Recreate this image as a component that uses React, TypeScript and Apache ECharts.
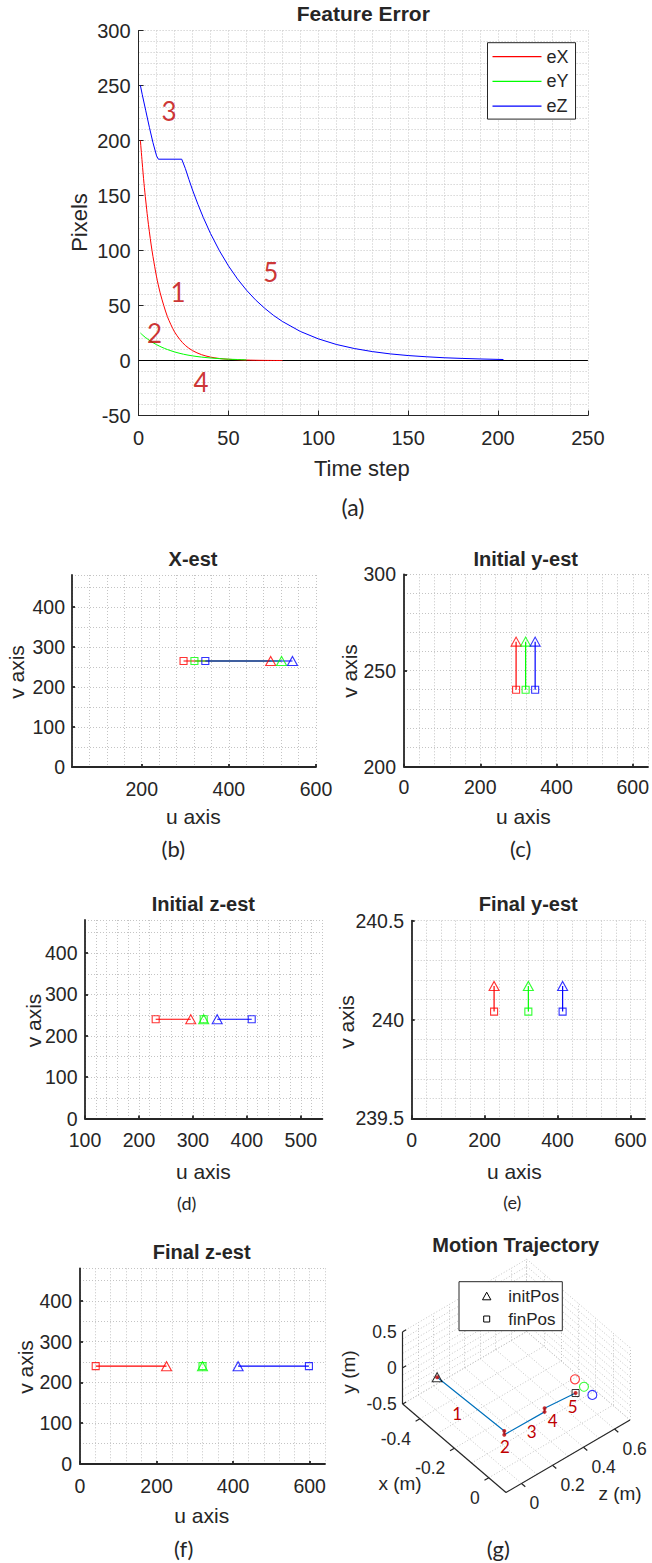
import React, { useEffect, useRef } from "react";
import * as echarts from "echarts";

// ---------------- DATA ----------------
// (a) Feature error
const eXTime = [1, 2, 3, 4, 5, 6, 7, 8, 10, 12, 14, 16, 18, 20, 23, 26, 30, 35, 40, 45, 50, 60, 70, 80];
const eXValue = [200, 180, 161, 145, 130, 117, 105, 94.5, 76, 61.5, 50, 40, 32.5, 26, 19, 13.7, 9, 5.3, 3.1, 1.8, 1.1, 0.4, 0.1, 0];
const eYTime = [1, 3, 5, 7, 10, 13, 16, 20, 25, 30, 35, 40, 45, 50, 55, 60];
const eYValue = [25, 22, 19.5, 17.2, 14.4, 12, 10, 7.8, 5.7, 4.2, 3.1, 2.3, 1.7, 1.2, 0.9, 0.6];
const eZTime = [1, 2, 4, 6, 8, 10, 11, 24, 26, 28, 30, 33, 36, 40, 45, 50, 55, 60, 65, 70, 75, 80, 90, 100, 110, 120, 130, 140, 150, 160, 170, 180, 190, 203];
const eZValue = [250, 242, 227, 212, 198, 186, 183, 183, 174.6, 164.6, 155, 142, 130, 115.5, 99.7, 86, 74.2, 64, 55.2, 47.7, 41.1, 35.5, 26.4, 19.7, 14.6, 10.9, 8.1, 6, 4.5, 3.4, 2.5, 1.9, 1.4, 0.9];
const zeroLineTime = [0, 250];
const zeroLineValue = [0, 0];
const phaseLabels = ["1", "2", "3", "4", "5"];
const phaseTime = [21.9, 8.9, 17, 34.8, 73.5];
const phaseValue = [62.5, 24.7, 227, -19.3, 80.7];
const aTimeTicks = [0, 50, 100, 150, 200, 250];
const aPixelTicks = [-50, 0, 50, 100, 150, 200, 250, 300];

// (b)-(f) image-plane features (red, green, blue)
const featureColors = ["#ff0000", "#00ff00", "#0000ff"];
const xEstSquareU = [296, 321, 346];
const xEstSquareV = [265, 265, 265];
const xEstTriU = [496, 521, 546];
const xEstTriV = [265, 265, 265];

const iyEstSquareU = [294, 319, 344];
const iyEstSquareV = [240, 240, 240];
const iyEstTriU = [294, 319, 344];
const iyEstTriV = [265, 265, 265];

const izEstSquareU = [231, 320, 409];
const izEstSquareV = [240, 240, 240];
const izEstTriU = [296, 320, 345];
const izEstTriV = [240, 240, 240];

const fyEstSquareU = [226, 320, 414];
const fyEstSquareV = [240.04, 240.04, 240.04];
const fyEstTriU = [226, 320, 414];
const fyEstTriV = [240.17, 240.17, 240.17];

const fzEstSquareU = [41, 320, 598];
const fzEstSquareV = [240, 240, 240];
const fzEstTriU = [226, 320, 413];
const fzEstTriV = [240, 240, 240];

const uTicks0 = [0, 200, 400, 600];
const uTicksB = [200, 400, 600];
const uTicksD = [100, 200, 300, 400, 500];
const vTicks0 = [0, 100, 200, 300, 400];
const vTicksC = [200, 250, 300];
const vTicksE = [239.5, 240, 240.5];

// (g) motion trajectory (3D, metres)
const trajX = [-0.39, 0, 0, 0, 0, 0];
const trajY = [-0.03, 0.02, -0.03, -0.04, 0.01, -0.03];
const trajZ = [0, 0, 0, 0.26, 0.26, 0.46];
const featX = [0, 0, 0];
const featY = [0.165, -0.011, -0.192];
const featZ = [0.456, 0.514, 0.568];
const xTicks3 = [-0.4, -0.2, 0];
const yTicks3 = [-0.5, 0, 0.5];
const zTicks3 = [0, 0.2, 0.4, 0.6];
const xGrid3 = [-0.5, -0.4, -0.3, -0.2, -0.1, 0, 0.1];
const yGrid3 = [-0.5, -0.4, -0.3, -0.2, -0.1, 0, 0.1, 0.2, 0.3, 0.4, 0.5];
const zGrid3 = [-0.1, 0, 0.1, 0.2, 0.3, 0.4, 0.5, 0.6, 0.7];

// ---------------- STYLE / LAYOUT ----------------
const FONT = "'Liberation Sans', Arial, Helvetica, sans-serif";
const CAL = "Lato, 'Open Sans', sans-serif";
const INK = "#262626";
const GRIDC = "#c4c4c4";
const DOT = [1, 2];
const ANNOT = "#c00000";

const X3 = [-0.5, 0.1];
const Y3 = [-0.5, 0.5];
const Z3 = [-0.1, 0.7];
const G3 = { left: 330, top: 1240, width: 322, height: 280 };
const ORIGIN3 = [402.7, 1404];
const VX3 = [103.3, 88.5];
const VY3 = [0, -72.3];
const VZ3 = [124, -72.5];

function projPage(x: number, y: number, z: number): number[] {
  const nx = (x - X3[0]) / (X3[1] - X3[0]);
  const ny = (y - Y3[0]) / (Y3[1] - Y3[0]);
  const nz = (z - Z3[0]) / (Z3[1] - Z3[0]);
  return [
    ORIGIN3[0] + nx * VX3[0] + ny * VY3[0] + nz * VZ3[0],
    ORIGIN3[1] + nx * VX3[1] + ny * VY3[1] + nz * VZ3[1],
  ];
}
function proj(x: number, y: number, z: number): number[] {
  const p = projPage(x, y, z);
  return [p[0] - G3.left, p[1] - G3.top];
}
function unit(v: number[], s: number): number[] {
  const l = Math.hypot(v[0], v[1]);
  return [(v[0] / l) * s, (v[1] / l) * s];
}

type Panel = {
  rect: number[];
  x: [number, number, number[], number];
  y: [number, number, number[], number];
  size: number;
  axisW: number;
  tick: number;
  xm: number;
  ym: number;
};

const panels: Panel[] = [
  { rect: [138.6, 30.5, 449.3, 385], x: [0, 250, aTimeTicks, 10], y: [-50, 300, aPixelTicks, 10], size: 20, axisW: 1, tick: 5, xm: 12, ym: 8 },
  { rect: [72, 575, 244, 192], x: [40, 600, uTicksB, 40], y: [0, 480, vTicks0, 50], size: 19.5, axisW: 1.8, tick: 3, xm: 11.5, ym: 7 },
  { rect: [404, 574.3, 244, 192.4], x: [0, 640, uTicks0, 40], y: [200, 300, vTicksC, 10], size: 19.5, axisW: 1.8, tick: 3, xm: 10.5, ym: 8 },
  { rect: [85, 920, 237.4, 198.5], x: [100, 540, uTicksD, 20], y: [0, 480, vTicks0, 50], size: 19.5, axisW: 1.8, tick: 3, xm: 11.5, ym: 7.5 },
  { rect: [411.7, 920.7, 233.3, 197.6], x: [0, 640, uTicks0, 40], y: [239.5, 240.5, vTicksE, 0.1], size: 19.5, axisW: 1.8, tick: 3, xm: 11.5, ym: 7.5 },
  { rect: [80, 1268.3, 245, 195.7], x: [0, 640, uTicks0, 40], y: [0, 480, vTicks0, 50], size: 19.5, axisW: 1.8, tick: 3, xm: 12, ym: 8 },
];

function mainAxis(gi: number, isX: boolean, p: Panel) {
  const [mn, mx, ticks] = isX ? p.x : p.y;
  return {
    type: "value",
    gridIndex: gi,
    min: mn,
    max: mx,
    position: isX ? "bottom" : "left",
    z: 3,
    axisLine: { show: true, onZero: false, lineStyle: { color: INK, width: p.axisW } },
    axisTick: { show: true, inside: true, length: p.tick, customValues: ticks, lineStyle: { color: INK, width: p.axisW } },
    axisLabel: {
      show: true,
      customValues: ticks,
      color: INK,
      fontSize: p.size,
      fontFamily: FONT,
      margin: isX ? p.xm : p.ym,
      hideOverlap: false,
    },
    splitLine: { show: false },
  };
}
function minorAxis(gi: number, isX: boolean, p: Panel) {
  const [mn, mx, , step] = isX ? p.x : p.y;
  return {
    type: "value",
    gridIndex: gi,
    min: mn,
    max: mx,
    interval: step,
    position: isX ? "bottom" : "left",
    z: 0,
    axisLine: { show: false },
    axisTick: { show: false },
    axisLabel: { show: false },
    splitLine: { show: true, lineStyle: { color: GRIDC, width: 1, type: DOT } },
  };
}

function zip(a: number[], b: number[]) {
  return a.map((v, i) => [v, b[i]]);
}

function uvSeries(pi: number, sqU: number[], sqV: number[], trU: number[], trV: number[]) {
  const out: any[] = [];
  featureColors.forEach((c, i) => {
    out.push({
      type: "line",
      xAxisIndex: pi * 2,
      yAxisIndex: pi * 2,
      data: [[sqU[i], sqV[i]], [trU[i], trV[i]]],
      symbol: "none",
      lineStyle: { color: c, width: 1.2 },
      silent: true,
      z: 2,
    });
  });
  featureColors.forEach((c, i) => {
    out.push({
      type: "scatter",
      xAxisIndex: pi * 2,
      yAxisIndex: pi * 2,
      data: [[sqU[i], sqV[i]]],
      symbol: "rect",
      symbolSize: 7,
      itemStyle: { color: "transparent", borderColor: c, borderWidth: 1.1 },
      silent: true,
      z: 4,
    });
    out.push({
      type: "scatter",
      xAxisIndex: pi * 2,
      yAxisIndex: pi * 2,
      data: [[trU[i], trV[i]]],
      symbol: "triangle",
      symbolSize: [10, 9],
      itemStyle: { color: "transparent", borderColor: c, borderWidth: 1.1 },
      silent: true,
      z: 4,
    });
  });
  return out;
}

function txt(x: number, y: number, text: string, size: number, o: any = {}) {
  return {
    type: "text",
    x,
    y,
    rotation: o.rot || 0,
    z: 100,
    silent: true,
    style: {
      text,
      fill: o.fill || INK,
      fontSize: size,
      fontFamily: o.family || FONT,
      fontWeight: o.bold ? "bold" : "normal",
      align: o.align || "center",
      verticalAlign: "middle",
    },
  };
}

function buildOption() {
  const grid: any[] = panels.map((p) => ({
    left: p.rect[0],
    top: p.rect[1],
    width: p.rect[2],
    height: p.rect[3],
    show: false,
    containLabel: false,
    outerBoundsMode: "none",
  }));
  grid.push({ left: G3.left, top: G3.top, width: G3.width, height: G3.height, show: false, containLabel: false, outerBoundsMode: "none" });

  const xAxis: any[] = [];
  const yAxis: any[] = [];
  panels.forEach((p, i) => {
    xAxis.push(mainAxis(i, true, p));
    xAxis.push(minorAxis(i, true, p));
    yAxis.push(mainAxis(i, false, p));
    yAxis.push(minorAxis(i, false, p));
  });
  const g3x = xAxis.length;
  const g3y = yAxis.length;
  xAxis.push({ type: "value", gridIndex: 6, min: 0, max: G3.width, show: false });
  yAxis.push({ type: "value", gridIndex: 6, min: 0, max: G3.height, inverse: true, show: false });

  const series: any[] = [];
  // (a)
  series.push({
    type: "line", name: "zero", xAxisIndex: 0, yAxisIndex: 0,
    data: zip(zeroLineTime, zeroLineValue), symbol: "none",
    lineStyle: { color: "#000000", width: 1 }, silent: true,
  });
  series.push({
    type: "line", name: "eX", xAxisIndex: 0, yAxisIndex: 0, data: zip(eXTime, eXValue),
    symbol: "none", smooth: 0.3, color: "#ff0000", lineStyle: { color: "#ff0000", width: 1 }, silent: true,
  });
  series.push({
    type: "line", name: "eY", xAxisIndex: 0, yAxisIndex: 0, data: zip(eYTime, eYValue),
    symbol: "none", smooth: 0.3, color: "#00ff00", lineStyle: { color: "#00ff00", width: 1 }, silent: true,
  });
  series.push({
    type: "line", name: "eZ", xAxisIndex: 0, yAxisIndex: 0, data: zip(eZTime, eZValue),
    symbol: "none", color: "#0000ff", lineStyle: { color: "#0000ff", width: 1 }, silent: true,
  });
  series.push({
    type: "scatter", xAxisIndex: 0, yAxisIndex: 0,
    data: phaseLabels.map((n, i) => ({ name: n, value: [phaseTime[i], phaseValue[i]] })),
    symbol: "circle", symbolSize: 1, itemStyle: { color: "transparent" }, silent: true, z: 6,
    label: { show: true, position: "inside", formatter: "{b}", color: ANNOT, fontSize: 26, fontFamily: CAL },
  });

  // (b)-(f)
  series.push(...uvSeries(1, xEstSquareU, xEstSquareV, xEstTriU, xEstTriV));
  series.push(...uvSeries(2, iyEstSquareU, iyEstSquareV, iyEstTriU, iyEstTriV));
  series.push(...uvSeries(3, izEstSquareU, izEstSquareV, izEstTriU, izEstTriV));
  series.push(...uvSeries(4, fyEstSquareU, fyEstSquareV, fyEstTriU, fyEstTriV));
  series.push(...uvSeries(5, fzEstSquareU, fzEstSquareV, fzEstTriU, fzEstTriV));

  // (g) 3D box grid
  const gl: any[] = [];
  const seg = (a: number[], b: number[]) => gl.push({ coords: [a, b] });
  xGrid3.forEach((x) => seg(proj(x, Y3[0], Z3[0]), proj(x, Y3[0], Z3[1])));
  zGrid3.forEach((z) => seg(proj(X3[0], Y3[0], z), proj(X3[1], Y3[0], z)));
  yGrid3.forEach((y) => seg(proj(X3[0], y, Z3[0]), proj(X3[0], y, Z3[1])));
  zGrid3.forEach((z) => seg(proj(X3[0], Y3[0], z), proj(X3[0], Y3[1], z)));
  yGrid3.forEach((y) => seg(proj(X3[0], y, Z3[1]), proj(X3[1], y, Z3[1])));
  xGrid3.forEach((x) => seg(proj(x, Y3[0], Z3[1]), proj(x, Y3[1], Z3[1])));
  series.push({
    type: "lines", coordinateSystem: "cartesian2d", xAxisIndex: g3x, yAxisIndex: g3y,
    data: gl, lineStyle: { color: GRIDC, width: 1, type: DOT, opacity: 1, curveness: 0 }, silent: true, z: 1,
  });
  const edges = [
    { coords: [proj(X3[0], Y3[0], Z3[0]), proj(X3[0], Y3[1], Z3[0])] },
    { coords: [proj(X3[0], Y3[0], Z3[0]), proj(X3[1], Y3[0], Z3[0])] },
    { coords: [proj(X3[1], Y3[0], Z3[0]), proj(X3[1], Y3[0], Z3[1])] },
  ];
  const tdx = unit([-VZ3[0], -VZ3[1]], 5);
  const tdz = unit(VX3, 5);
  const tdy = unit(VZ3, 4);
  xTicks3.forEach((x) => {
    const p = proj(x, Y3[0], Z3[0]);
    edges.push({ coords: [p, [p[0] + tdx[0], p[1] + tdx[1]]] });
  });
  zTicks3.forEach((z) => {
    const p = proj(X3[1], Y3[0], z);
    edges.push({ coords: [p, [p[0] + tdz[0], p[1] + tdz[1]]] });
  });
  yTicks3.forEach((y) => {
    const p = proj(X3[0], y, Z3[0]);
    edges.push({ coords: [p, [p[0] + tdy[0], p[1] + tdy[1]]] });
  });
  series.push({
    type: "lines", coordinateSystem: "cartesian2d", xAxisIndex: g3x, yAxisIndex: g3y,
    data: edges, lineStyle: { color: INK, width: 1.2, opacity: 1, curveness: 0 }, silent: true, z: 2,
  });
  const trajPts = trajX.map((x, i) => proj(x, trajY[i], trajZ[i]));
  series.push({
    type: "line", xAxisIndex: g3x, yAxisIndex: g3y, data: trajPts, symbol: "none",
    lineStyle: { color: "#0072BD", width: 1.2 }, silent: true, z: 3,
  });
  series.push({
    type: "scatter", xAxisIndex: g3x, yAxisIndex: g3y, data: trajPts, symbol: "circle", symbolSize: 4,
    itemStyle: { color: "#c00000" }, silent: true, z: 4,
  });
  series.push({
    type: "scatter", name: "initPos", xAxisIndex: g3x, yAxisIndex: g3y, data: [trajPts[0]],
    symbol: "triangle", symbolSize: [10, 9], itemStyle: { color: "transparent", borderColor: "#000", borderWidth: 1 }, silent: true, z: 5,
  });
  series.push({
    type: "scatter", name: "finPos", xAxisIndex: g3x, yAxisIndex: g3y, data: [trajPts[trajPts.length - 1]],
    symbol: "rect", symbolSize: 7, itemStyle: { color: "transparent", borderColor: "#000", borderWidth: 1 }, silent: true, z: 5,
  });
  series.push({
    type: "scatter", xAxisIndex: g3x, yAxisIndex: g3y,
    data: featX.map((x, i) => ({ value: proj(x, featY[i], featZ[i]), itemStyle: { borderColor: featureColors[i] } })),
    symbol: "circle", symbolSize: 9, itemStyle: { color: "transparent", borderWidth: 1.1 }, silent: true, z: 5,
  });

  // texts
  const g: any[] = [];
  // (a)
  g.push(txt(363.3, 13, "Feature Error", 21, { bold: true }));
  g.push(txt(79.6, 222.5, "Pixels", 22, { rot: Math.PI / 2 }));
  g.push(txt(361.8, 468, "Time step", 22));
  g.push(txt(352.9, 506.5, "(a)", 23, { family: CAL }));
  // (b)
  g.push(txt(193, 559, "X-est", 20, { bold: true }));
  g.push(txt(16.5, 672, "v axis", 21, { rot: Math.PI / 2 }));
  g.push(txt(193.3, 816.5, "u axis", 21));
  g.push(txt(173.3, 848, "(b)", 22, { family: CAL }));
  // (c)
  g.push(txt(525.7, 558.5, "Initial y-est", 20, { bold: true }));
  g.push(txt(349.5, 671, "v axis", 21, { rot: Math.PI / 2 }));
  g.push(txt(523.3, 816.5, "u axis", 21));
  g.push(txt(520.7, 848, "(c)", 22, { family: CAL }));
  // (d)
  g.push(txt(203.3, 904, "Initial z-est", 20, { bold: true }));
  g.push(txt(33, 1020.5, "v axis", 21, { rot: Math.PI / 2 }));
  g.push(txt(203.3, 1171.5, "u axis", 21));
  g.push(txt(186.7, 1202.5, "(d)", 18, { family: CAL }));
  // (e)
  g.push(txt(528.3, 904, "Final y-est", 20, { bold: true }));
  g.push(txt(346.3, 1022, "v axis", 21, { rot: Math.PI / 2 }));
  g.push(txt(514.3, 1171.5, "u axis", 21));
  g.push(txt(512.3, 1201.5, "(e)", 18, { family: CAL }));
  // (f)
  g.push(txt(201.7, 1252.3, "Final z-est", 20, { bold: true }));
  g.push(txt(25.3, 1367, "v axis", 21, { rot: Math.PI / 2 }));
  g.push(txt(201.7, 1515, "u axis", 21));
  g.push(txt(183.7, 1548, "(f)", 22, { family: CAL }));
  // (g)
  g.push(txt(515.7, 1245, "Motion Trajectory", 20, { bold: true }));
  g.push(txt(348.3, 1372, "y (m)", 19, { rot: Math.PI / 2 }));
  g.push(txt(400, 1483.3, "x (m)", 19));
  g.push(txt(620, 1493.3, "z (m)", 19));
  g.push(txt(498.3, 1548, "(g)", 22, { family: CAL }));
  xTicks3.forEach((x) => {
    const p = projPage(x, Y3[0], Z3[0]);
    g.push(txt(p[0] - 9, p[1] + 20, String(x), 17.5, { align: "right" }));
  });
  zTicks3.forEach((z) => {
    const p = projPage(X3[1], Y3[0], z);
    g.push(txt(p[0] + 8, p[1] + 20, String(z), 17.5, { align: "left" }));
  });
  yTicks3.forEach((y) => {
    const p = projPage(X3[0], y, Z3[0]);
    g.push(txt(p[0] - 6, p[1], String(y), 17.5, { align: "right" }));
  });
  // (g) phase numbers
  const gNum = [[457.3, 1413.3, "1"], [505, 1446.7, "2"], [531.7, 1431.7, "3"], [552.7, 1420.7, "4"], [572.7, 1406.7, "5"]];
  gNum.forEach((n) => g.push(txt(n[0] as number, n[1] as number, n[2] as string, 17, { family: CAL, fill: ANNOT })));
  // (g) legend box
  g.push({ type: "rect", z: 99, silent: true, shape: { x: 459, y: 1281.7, width: 103.3, height: 49 }, style: { fill: "#ffffff", stroke: INK, lineWidth: 1 } });
  g.push({ type: "polygon", z: 100, silent: true, shape: { points: [[482.5, 1299.8], [490.9, 1299.8], [486.7, 1292.2]] }, style: { fill: "none", stroke: "#000", lineWidth: 1 } });
  g.push({ type: "rect", z: 100, silent: true, shape: { x: 483.7, y: 1316, width: 6, height: 6 }, style: { fill: "none", stroke: "#000", lineWidth: 1 } });
  g.push(txt(508.3, 1296, "initPos", 17, { align: "left" }));
  g.push(txt(508.3, 1319, "finPos", 17, { align: "left" }));

  return {
    animation: false,
    backgroundColor: "#ffffff",
    grid,
    xAxis,
    yAxis,
    legend: [
      {
        data: ["eX", "eY", "eZ"],
        orient: "vertical",
        left: 487.5,
        top: 42.7,
        padding: [5, 7, 4, 5],
        icon: "rect",
        itemWidth: 49,
        itemHeight: 1.2,
        itemGap: 6.7,
        borderColor: INK,
        borderWidth: 1,
        backgroundColor: "#ffffff",
        selectedMode: false,
        textStyle: { fontSize: 18, fontFamily: FONT, color: INK, lineHeight: 18 },
      },
    ],
    series,
    graphic: { elements: g },
  };
}

export default function App() {
  const ref = useRef<HTMLDivElement>(null);
  useEffect(() => {
    document.body.style.margin = "0";
    const chart = echarts.init(ref.current as HTMLDivElement, undefined, { renderer: "svg" });
    chart.setOption(buildOption() as any);
    return () => chart.dispose();
  }, []);
  return <div ref={ref} style={{ width: 652, height: 1563 }} />;
}
